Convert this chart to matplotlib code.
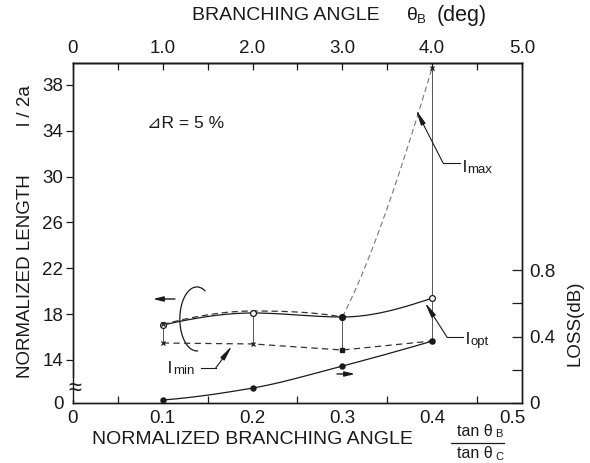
import numpy as np
import matplotlib
matplotlib.use('Agg')
import matplotlib.pyplot as plt
from matplotlib.ticker import FixedLocator
import matplotlib.transforms as mtransforms

plt.rcParams['font.family'] = ['Liberation Sans', 'DejaVu Sans']

# ---------------- data ----------------
ratio = [0.1, 0.2, 0.3, 0.4]              # tan(thetaB)/tan(thetaC)
l_opt = [17.05, 18.1, 17.75, 19.4]        # normalized length l/2a
l_max = [17.1, 18.27, 17.75, 39.5]
l_min = [15.48, 15.4, 14.87, 15.66]
loss_db = [0.018, 0.09, 0.223, 0.373]     # LOSS (dB), right axis

left_ticks = [14, 18, 22, 26, 30, 34, 38]
left_labels = ['14', '18', '22', '26', '30', '34', '38']
loss_ticks = [0, 0.4, 0.8]
loss_labels = ['0', '0.4', '0.8']
bottom_ticks = [0, 0.1, 0.2, 0.3, 0.4, 0.5]
bottom_labels = ['0', '0.1', '0.2', '0.3', '0.4', '0.5']
top_ticks = [0, 1, 2, 3, 4, 5]
top_labels = ['0', '1.0', '2.0', '3.0', '4.0', '5.0']

Y_BOTTOM, Y_TOP = 10.25, 39.9
LOSS_TOP = 2.05


def pchip_slopes(x, y):
    x = np.asarray(x, float); y = np.asarray(y, float)
    h = np.diff(x); d = np.diff(y) / h
    m = np.zeros_like(y)
    for k in range(1, len(x) - 1):
        if d[k - 1] * d[k] > 0:
            w1 = 2 * h[k] + h[k - 1]; w2 = h[k] + 2 * h[k - 1]
            m[k] = (w1 + w2) / (w1 / d[k - 1] + w2 / d[k])

    def end(h0, h1, d0, d1):
        s = ((2 * h0 + h1) * d0 - h0 * d1) / (h0 + h1)
        if np.sign(s) != np.sign(d0):
            s = 0.0
        elif np.sign(d0) != np.sign(d1) and abs(s) > abs(3 * d0):
            s = 3 * d0
        return s
    m[0] = end(h[0], h[1], d[0], d[1])
    m[-1] = end(h[-1], h[-2], d[-1], d[-2])
    return m


def hermite(x, y, m, n=50):
    xs, ys = [], []
    for k in range(len(x) - 1):
        t = np.linspace(0, 1, n)
        hk = x[k + 1] - x[k]
        h00 = 2 * t**3 - 3 * t**2 + 1
        h10 = t**3 - 2 * t**2 + t
        h01 = -2 * t**3 + 3 * t**2
        h11 = t**3 - t**2
        xs.append(x[k] + t * hk)
        ys.append(h00 * y[k] + h10 * hk * m[k] + h01 * y[k + 1] + h11 * hk * m[k + 1])
    return np.concatenate(xs), np.concatenate(ys)


fig = plt.figure(figsize=(5.9, 4.63), dpi=100)
ax = fig.add_axes([0.1237, 0.1296, 0.761, 0.7343])
ax2 = ax.twinx()

ax.set_xlim(0, 0.5)
ax.set_ylim(Y_BOTTOM, Y_TOP)
ax2.set_ylim(0, LOSS_TOP)

ink = '#1a1a1a'
for a in (ax, ax2):
    for s in a.spines.values():
        s.set_linewidth(1.0)
        s.set_color(ink)

# range bars between l_min and l_max
ax.vlines(ratio, l_min, l_max, color='#555555', lw=0.7, zorder=2)

# l_opt smooth solid curve
xo, yo = hermite(ratio, l_opt, pchip_slopes(ratio, l_opt))
ax.plot(xo, yo, color=ink, lw=0.9, zorder=3)

# l_max dashed curve
xm, ym = hermite(ratio[:3], l_max[:3], pchip_slopes(ratio[:3], l_max[:3]))
ax.plot(xm, ym, color='#333333', lw=0.9, ls=(0, (5, 3)), zorder=3)
dl = (l_max[3] - l_max[2]) / (ratio[3] - ratio[2])
xm2, ym2 = hermite(ratio[2:], l_max[2:], [0.7 * dl, 1.2 * dl])
ax.plot(xm2, ym2, color='#777777', lw=0.8, ls=(0, (5, 3)), zorder=3)

# l_min dashed
ax.plot(ratio, l_min, color='#333333', lw=0.9, ls=(0, (5, 3.5)), zorder=3)

# markers
ax.plot([ratio[i] for i in (0, 1, 3)], [l_opt[i] for i in (0, 1, 3)], 'o', ms=4.2,
        mfc='white', mec=ink, mew=0.9, zorder=5)
ax.plot([ratio[2]], [l_opt[2]], 'o', ms=4.2, mfc=ink, mec=ink, zorder=5)
ax.plot(ratio[:1] + ratio[3:], [l_max[0], l_max[3]], 'x', ms=3, mec=ink, mew=0.9, zorder=5)
ax.plot(ratio[:2], l_min[:2], 'x', ms=3, mec=ink, mew=0.9, zorder=5)
ax.plot(ratio[2:], l_min[2:], 's', ms=3.2, mfc=ink, mec=ink, zorder=5)

# loss curve (right axis)
xl, yl = hermite(ratio, loss_db, pchip_slopes(ratio, loss_db))
ax2.plot(xl, yl, color=ink, lw=0.9, zorder=3)
ax2.plot(ratio, loss_db, 'o', ms=3.6, mfc=ink, mec=ink, zorder=5)

# ---- ticks ----
ax.set_yticks([Y_BOTTOM] + left_ticks)
ax.set_yticklabels(['0'] + left_labels)
ax.tick_params(axis='y', direction='out', length=5, width=0.9, pad=2, labelsize=13.5, colors=ink)
ax.get_yaxis().get_major_ticks()[0].tick1line.set_visible(False)

ax.set_xticks(bottom_ticks)
ax.set_xticklabels(bottom_labels)
ax.xaxis.set_minor_locator(FixedLocator([0.05, 0.15, 0.25, 0.3, 0.35, 0.4, 0.45]))
ax.tick_params(axis='x', which='major', length=0, pad=5, labelsize=13.5, colors=ink)
ax.tick_params(axis='x', which='minor', direction='in', length=5, width=0.9, colors=ink)
ax.tick_params(axis='x', top=False)
lab = ax.get_xticklabels()[-1]
lab.set_transform(lab.get_transform() + mtransforms.ScaledTranslation(-0.10, 0, fig.dpi_scale_trans))

ax2.set_yticks(loss_ticks)
ax2.set_yticklabels(loss_labels)
ax2.yaxis.set_minor_locator(FixedLocator([0.2, 0.6]))
ax2.tick_params(axis='y', which='both', direction='in', length=7, width=0.9, pad=5,
                labelsize=13.5, colors=ink)

sec = ax.secondary_xaxis('top', functions=(lambda v: v * 10, lambda v: v / 10))
sec.set_xticks(top_ticks)
sec.set_xticklabels(top_labels)
sec.xaxis.set_minor_locator(FixedLocator([0.5, 1.5, 2.5, 3.5, 4.5]))
sec.tick_params(axis='x', which='both', direction='in', length=5, width=0.9, pad=4,
                labelsize=13.5, colors=ink)
sec.spines['top'].set_linewidth(1.0)

# ---- axis titles ----
fig.text(192 / 590, 1 - 16 / 463, 'BRANCHING ANGLE', fontsize=14, ha='left', va='center', color=ink)
fig.text(407 / 590, 1 - 16 / 463, 'θ', fontsize=14, ha='left', va='center', color=ink)
fig.text(417 / 590, 1 - 20 / 463, 'B', fontsize=9.5, ha='left', va='center', color=ink)
fig.text(437 / 590, 1 - 16 / 463, '(deg)', fontsize=15.5, ha='left', va='center', color=ink)

fig.text(26 / 590, 1 - 276 / 463, 'NORMALIZED LENGTH', fontsize=13.5, rotation=90,
         ha='center', va='center', color=ink)
fig.text(26 / 590, 1 - 106 / 463, 'l / 2a', fontsize=13.5, rotation=90,
         ha='center', va='center', color=ink)
fig.text(575 / 590, 1 - 323 / 463, 'LOSS(dB)', fontsize=13.5, rotation=90,
         ha='center', va='center', color=ink)

fig.text(252 / 590, 1 - 439 / 463, 'NORMALIZED BRANCHING ANGLE', fontsize=14,
         ha='center', va='center', color=ink)
fig.text(475 / 590, 1 - 431 / 463, 'tan θ', fontsize=11.5, ha='center', va='center', color=ink)
fig.text(495 / 590, 1 - 434 / 463, 'B', fontsize=8, ha='left', va='center', color=ink)
fig.text(475 / 590, 1 - 454 / 463, 'tan θ', fontsize=11.5, ha='center', va='center', color=ink)
fig.text(495 / 590, 1 - 457 / 463, 'C', fontsize=8, ha='left', va='center', color=ink)
fig.add_artist(plt.Line2D([451 / 590, 504 / 590], [1 - 443 / 463, 1 - 443 / 463],
                          transform=fig.transFigure, color=ink, lw=0.9))

# ---- annotations ----
ax.text(0.0824, 34.6, '⊿R = 5 %', fontsize=12.5, ha='left', va='center', color=ink)

# l_max label with leader
ax.text(0.434, 30.8, 'l', fontsize=12.5, ha='left', va='center', color=ink)
ax.text(0.4395, 30.55, 'max', fontsize=9.5, ha='left', va='center', color=ink)
ax.plot([0.431, 0.412], [31.2, 31.2], color=ink, lw=0.8)
ax.annotate('', xy=(0.382, 35.8), xytext=(0.412, 31.2),
            arrowprops=dict(arrowstyle='-|>,head_length=0.9,head_width=0.15', color=ink, lw=0.8,
                            shrinkA=0, shrinkB=0))

# l_opt label
ax.text(0.437, 15.8, 'l', fontsize=12.5, ha='left', va='center', color=ink)
ax.text(0.4425, 15.55, 'opt', fontsize=9.5, ha='left', va='center', color=ink)
ax.plot([0.4342, 0.4165], [16.0, 16.0], color=ink, lw=0.8)
ax.annotate('', xy=(0.392, 19.0), xytext=(0.4165, 16.0),
            arrowprops=dict(arrowstyle='-|>,head_length=0.9,head_width=0.15', color=ink, lw=0.8,
                            shrinkA=0, shrinkB=0))

# l_min label
ax.text(0.106, 13.3, 'l', fontsize=12.5, ha='left', va='center', color=ink)
ax.text(0.1115, 13.05, 'min', fontsize=9.5, ha='left', va='center', color=ink)
ax.plot([0.1424, 0.159], [13.3, 13.3], color=ink, lw=0.8)
ax.annotate('', xy=(0.177, 15.22), xytext=(0.159, 13.3),
            arrowprops=dict(arrowstyle='-|>,head_length=0.9,head_width=0.15', color=ink, lw=0.8,
                            shrinkA=0, shrinkB=0))

# bracket "(" grouping the two left-axis curves
tb = np.radians(np.linspace(62, 272, 80))
ax.plot(0.138 + 0.019 * np.cos(tb), 17.58 + 2.79 * np.sin(tb), color=ink, lw=0.9)

# axis-direction arrows
ax.annotate('', xy=(0.0891, 19.32), xytext=(0.1136, 19.32),
            arrowprops=dict(arrowstyle='-|>,head_length=0.6,head_width=0.15', color=ink, lw=1.0,
                            shrinkA=0, shrinkB=0))
ax.annotate('', xy=(0.314, 12.78), xytext=(0.294, 12.78),
            arrowprops=dict(arrowstyle='-|>,head_length=0.6,head_width=0.15', color=ink, lw=1.0,
                            shrinkA=0, shrinkB=0))

# axis break mark
ax.text(0.005, 11.45, '≈', fontsize=17, ha='center', va='center', color=ink,
        transform=mtransforms.blended_transform_factory(ax.transAxes, ax.transData),
        clip_on=False, bbox=dict(facecolor='white', edgecolor='none', pad=0.0), zorder=6)

fig.savefig('out.png', dpi=100)
